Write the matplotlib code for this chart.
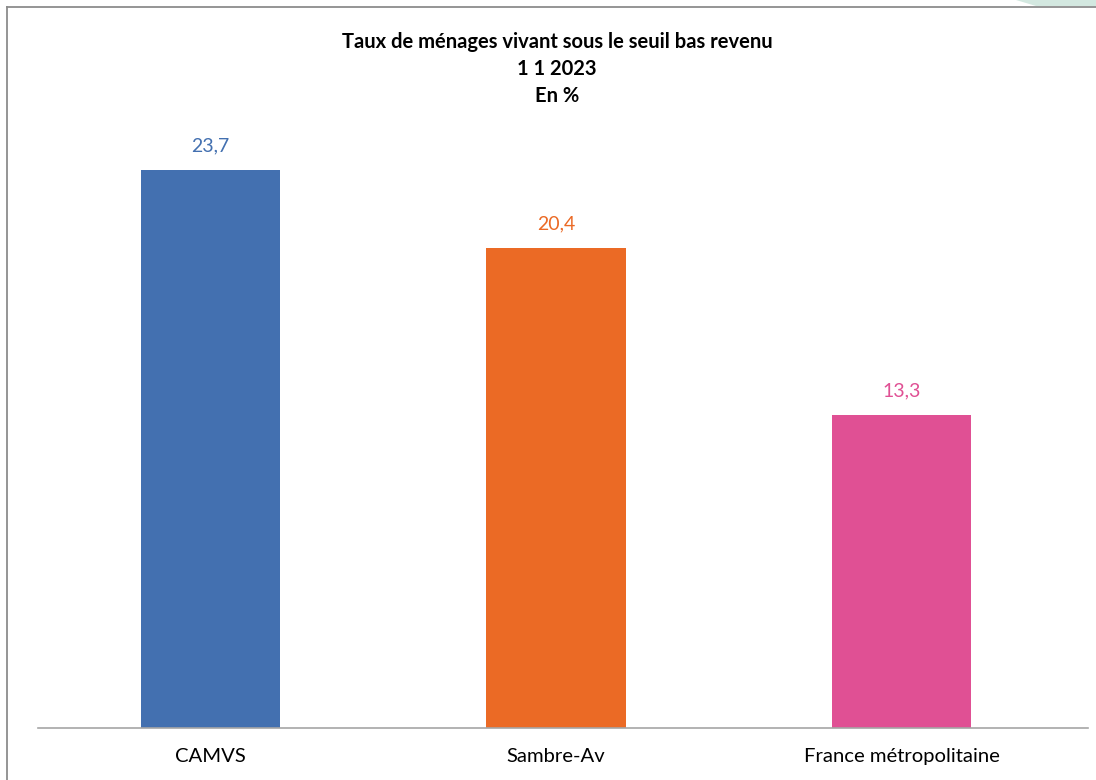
import matplotlib
matplotlib.use("Agg")
import matplotlib.pyplot as plt
from matplotlib.patches import Polygon
from matplotlib.lines import Line2D

categories = ["CAMVS", "Sambre-Av", "France métropolitaine"]
values = [23.7, 20.4, 13.3]
value_labels = ["23,7", "20,4", "13,3"]
colors = ["#4370B0", "#EB6A25", "#E05094"]
title_lines = ["Taux de ménages vivant sous le seuil bas revenu", "1 1 2023", "En %"]

plt.rcParams['font.family'] = ['Lato', 'DejaVu Sans']

W, H = 1096, 780
fig = plt.figure(figsize=(W/100, H/100), dpi=100)
fig.patch.set_facecolor("white")

# decorative green shape top-right
fig.patches.append(Polygon([(1016/W, 1.0), (1096/W, 1.0), (1096/W, 1 - 6/H), (1036/W, 1 - 6/H)],
                           closed=True, transform=fig.transFigure, facecolor="#D3E8E0", edgecolor="none"))
# frame border (top and left)
fig.add_artist(Line2D([7/W, 1.0], [1 - 7/H, 1 - 7/H], transform=fig.transFigure, color="#8C8C8C", lw=1.3))
fig.add_artist(Line2D([7/W, 7/W], [0, 1 - 7/H], transform=fig.transFigure, color="#8C8C8C", lw=1.3))

left, right, bottom, top = 38/W, 1088/W, 1 - 728/H, 1 - 116/H
ax = fig.add_axes([left, bottom, right - left, top - bottom])
x = list(range(len(categories)))
bars = ax.bar(x, values, width=0.403, color=colors)
ax.set_xlim(-0.5, 2.54)
ax.set_ylim(0, 26)
for xi, v, lab, c in zip(x, values, value_labels, colors):
    ax.annotate(lab, (xi, v), xytext=(0, 11), textcoords="offset points",
                ha="center", va="bottom", color=c, fontsize=14)
ax.set_xticks(x)
ax.set_xticklabels(categories, fontsize=14.6)
ax.tick_params(axis="x", length=0, pad=14.5)
ax.set_yticks([])
for s in ["top", "right", "left"]:
    ax.spines[s].set_visible(False)
ax.spines["bottom"].set_color("#A6A6A6")
ax.spines["bottom"].set_linewidth(1.2)

for i, t in enumerate(title_lines):
    fig.text(557/W, 1 - (42 + 27*i)/H, t, ha="center", va="center", fontsize=14.5, fontweight="bold")

fig.savefig("out.png", dpi=100, facecolor="white")
